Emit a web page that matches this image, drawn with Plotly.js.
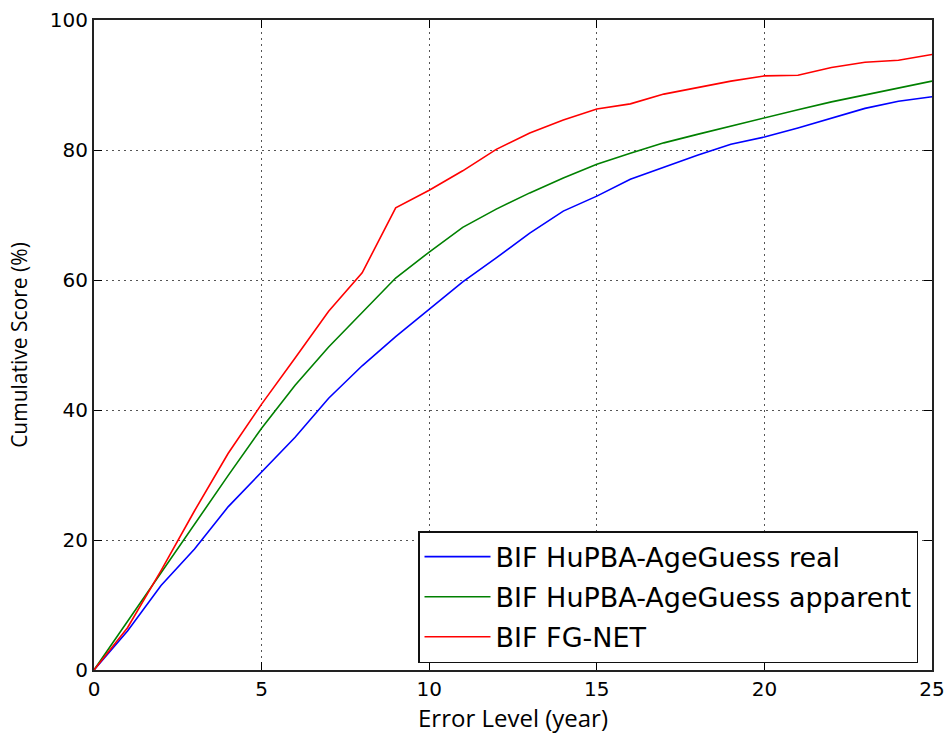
<!DOCTYPE html>
<html>
<head>
<meta charset="utf-8">
<script src="https://cdn.plot.ly/plotly-3.0.1.min.js"></script>
<style>body{margin:0;padding:0;background:#fff;}#chart{width:948px;height:738px;}</style>
</head>
<body>
<div id="chart"></div>
<script>
const errorLevel = [0,1,2,3,4,5,6,7,8,9,10,11,12,13,14,15,16,17,18,19,20,21,22,23,24,25];
const hupbaReal = [0,6.0,13.0,18.6,25.1,30.4,35.8,41.8,46.8,51.3,55.5,59.7,63.4,67.2,70.6,72.9,75.5,77.4,79.2,80.9,82.0,83.4,84.9,86.4,87.5,88.2];
const hupbaApparent = [0,7.5,15.0,22.5,29.9,37.2,43.8,49.7,55.0,60.3,64.3,68.1,70.9,73.4,75.7,77.8,79.5,81.1,82.4,83.7,85.0,86.2,87.4,88.5,89.5,90.6];
const fgnet = [0,6.5,15.3,24.5,33.3,40.9,48.0,55.2,61.1,71.1,73.8,76.8,80.1,82.6,84.6,86.3,87.1,88.6,89.6,90.6,91.4,91.5,92.7,93.5,93.8,94.7];
const seriesNames = ['BIF HuPBA-AgeGuess real','BIF HuPBA-AgeGuess apparent','BIF FG-NET'];
const xTicks = [0,5,10,15,20,25];
const yTicks = [0,20,40,60,80,100];

const colors = ['#0000ff','#008000','#ff0000'];
const series = [hupbaReal, hupbaApparent, fgnet];
const traces = series.map((s,i)=>({
  x: errorLevel, y: s, type:'scatter', mode:'lines', name: seriesNames[i],
  legendgroup: 'g'+i,
  line:{color:colors[i], width:1.6}
}));

const axisCommon = {
  showline:true, mirror:'ticks', linecolor:'#222', linewidth:2,
  ticks:'inside', ticklen:8, tickwidth:1, tickcolor:'#000',
  showgrid:true, gridcolor:'#555', griddash:'2px,4px', gridwidth:1,
  zeroline:false,
  tickfont:{family:'DejaVu Sans', size:20, color:'#000'}
};

const layout = {
  width:948, height:738,
  margin:{l:94, r:16, t:20, b:68},
  paper_bgcolor:'#fff', plot_bgcolor:'#fff',
  showlegend:true,
  xaxis: Object.assign({}, axisCommon, {
    range:[0,25], tickvals:xTicks, ticktext:xTicks.map(String),
    title:{text:'Error Level (year)', font:{family:'Open Sans', size:24, color:'#000'}, standoff:4}
  }),
  yaxis: Object.assign({}, axisCommon, {
    range:[0,100], tickvals:yTicks, ticktext:yTicks.map(String),
    title:{text:'Cumulative Score (%)', font:{family:'Open Sans', size:21, color:'#000'}, standoff:16}
  }),
  legend:{
    x:0.9833, y:0.2138, xanchor:'right', yanchor:'top',
    bgcolor:'#fff', bordercolor:'#111', borderwidth:1.5,
    font:{family:'DejaVu Sans', size:27, color:'#000'},
    itemwidth:66, tracegroupgap:2
  }
};

Plotly.newPlot('chart', traces, layout, {displayModeBar:false, staticPlot:true});
</script>
</body>
</html>
